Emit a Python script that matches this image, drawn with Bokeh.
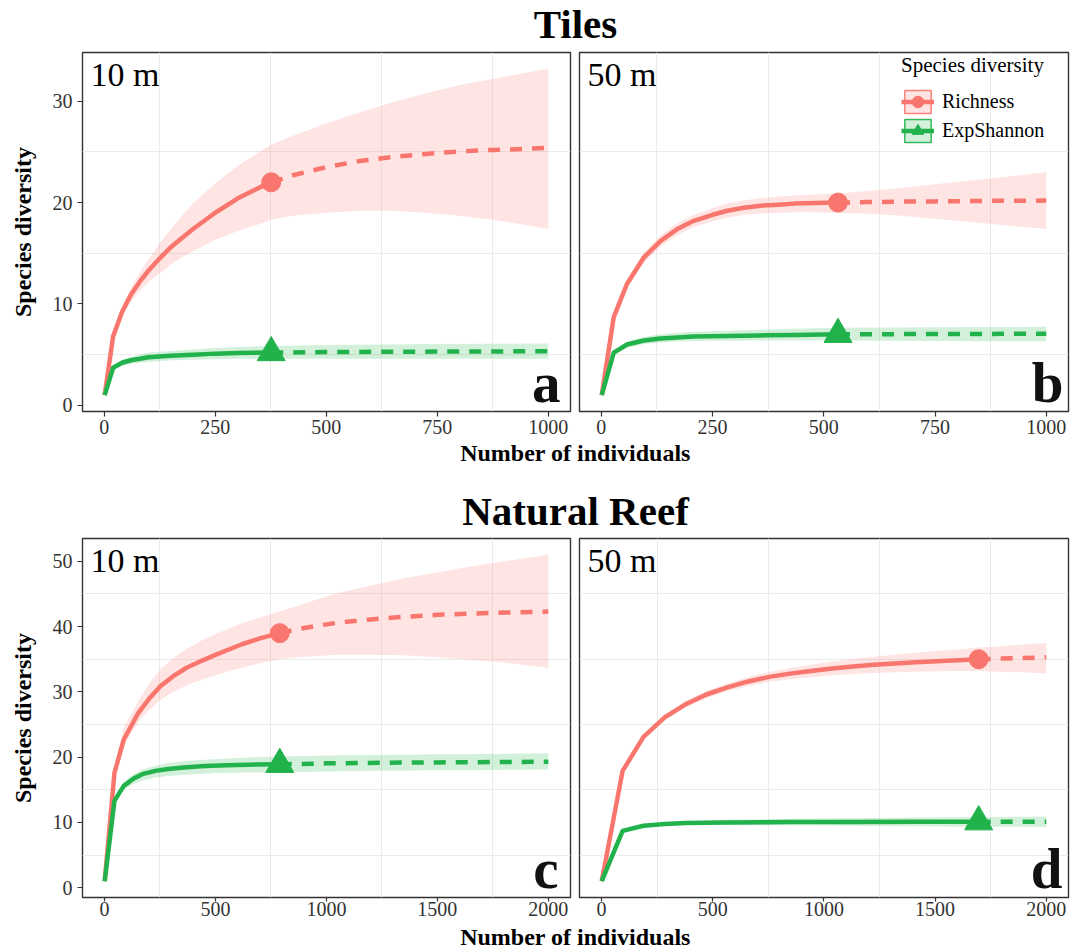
from bokeh.plotting import figure
from bokeh.layouts import column, row
from bokeh.models import Range1d, SingleIntervalTicker, FixedTicker, Label, Legend, LegendItem
from bokeh.embed import file_html
from bokeh.resources import INLINE

SERIF = "Liberation Serif"
RED = "#F8766D"
GREEN = "#22B24C"
INK = "#333333"
DESC = 0.216  # font descent (em), used to anchor text boxes at the baseline

# ---------------- data ----------------
series_names = ["Richness", "ExpShannon"]
panel_titles = ["10 m", "50 m", "10 m", "50 m"]
panel_letters = ["a", "b", "c", "d"]
row_titles = ["Tiles", "Natural Reef"]

# Panel a: Tiles, 10 m
a_rich_obs_x = [1, 20, 40, 60, 80, 100, 125, 150, 175, 200, 250, 300, 350, 376]
a_rich_obs_y = [1.0, 6.8, 9.2, 10.9, 12.2, 13.3, 14.5, 15.6, 16.5, 17.4, 19.0, 20.4, 21.5, 22.0]
a_rich_obs_lo = [1.0, 6.5, 8.7, 10.2, 11.3, 12.2, 13.0, 13.9, 14.6, 15.2, 16.3, 17.2, 17.9, 18.3]
a_rich_obs_hi = [1.0, 7.1, 9.7, 11.6, 13.1, 14.4, 16.0, 17.4, 18.7, 19.9, 21.9, 23.6, 25.0, 25.7]
a_rich_ext_x = [376, 425, 500, 575, 650, 725, 800, 875, 950, 1000]
a_rich_ext_y = [22.0, 22.7, 23.5, 24.1, 24.5, 24.8, 25.05, 25.2, 25.3, 25.4]
a_rich_ext_lo = [18.3, 18.7, 19.0, 19.2, 19.2, 19.0, 18.7, 18.3, 17.8, 17.4]
a_rich_ext_hi = [25.7, 26.6, 27.8, 28.9, 29.9, 30.8, 31.6, 32.2, 32.8, 33.2]

a_shan_obs_x = [1, 20, 40, 60, 80, 100, 150, 200, 250, 300, 376]
a_shan_obs_y = [1.0, 3.7, 4.2, 4.45, 4.6, 4.75, 4.9, 5.0, 5.1, 5.15, 5.2]
a_shan_obs_lo = [1.0, 3.5, 3.9, 4.1, 4.2, 4.3, 4.45, 4.5, 4.55, 4.6, 4.6]
a_shan_obs_hi = [1.0, 3.9, 4.5, 4.8, 5.0, 5.2, 5.35, 5.5, 5.65, 5.75, 5.85]
a_shan_ext_x = [376, 500, 625, 750, 875, 1000]
a_shan_ext_y = [5.2, 5.25, 5.28, 5.3, 5.32, 5.33]
a_shan_ext_lo = [4.6, 4.6, 4.6, 4.6, 4.6, 4.6]
a_shan_ext_hi = [5.85, 5.95, 6.0, 6.05, 6.08, 6.1]

# Panel b: Tiles, 50 m
b_rich_obs_x = [1, 28, 58, 96, 133, 171, 208, 250, 283, 320, 358, 400, 433, 480, 532]
b_rich_obs_y = [1.0, 8.7, 12.0, 14.6, 16.2, 17.4, 18.2, 18.8, 19.2, 19.5, 19.7, 19.8, 19.9, 19.95, 20.0]
b_rich_obs_lo = [1.0, 8.4, 11.6, 14.1, 15.65, 16.8, 17.6, 18.15, 18.5, 18.8, 18.95, 19.0, 19.05, 19.05, 19.0]
b_rich_obs_hi = [1.0, 9.0, 12.4, 15.1, 16.75, 18.0, 18.8, 19.45, 19.9, 20.2, 20.45, 20.6, 20.7, 20.8, 20.9]
b_rich_ext_x = [532, 600, 675, 750, 825, 900, 1000]
b_rich_ext_y = [20.0, 20.05, 20.1, 20.12, 20.15, 20.18, 20.2]
b_rich_ext_lo = [19.0, 18.9, 18.7, 18.4, 18.1, 17.8, 17.4]
b_rich_ext_hi = [20.9, 21.15, 21.45, 21.8, 22.15, 22.5, 23.0]

b_shan_obs_x = [1, 28, 58, 96, 133, 171, 208, 283, 358, 433, 532]
b_shan_obs_y = [1.0, 5.2, 6.0, 6.4, 6.6, 6.7, 6.78, 6.85, 6.9, 6.95, 7.0]
b_shan_obs_lo = [1.0, 5.0, 5.7, 6.05, 6.2, 6.3, 6.35, 6.38, 6.4, 6.4, 6.4]
b_shan_obs_hi = [1.0, 5.4, 6.3, 6.75, 7.0, 7.15, 7.25, 7.35, 7.45, 7.55, 7.65]
b_shan_ext_x = [532, 650, 775, 900, 1000]
b_shan_ext_y = [7.0, 7.02, 7.04, 7.05, 7.05]
b_shan_ext_lo = [6.4, 6.38, 6.35, 6.33, 6.3]
b_shan_ext_hi = [7.65, 7.67, 7.7, 7.72, 7.75]

# Panel c: Natural Reef, 10 m
c_rich_obs_x = [1, 45, 87, 153, 200, 253, 310, 370, 440, 503, 560, 620, 700, 790]
c_rich_obs_y = [1.0, 17.6, 22.7, 26.8, 28.9, 30.9, 32.4, 33.7, 34.8, 35.7, 36.5, 37.3, 38.2, 39.0]
c_rich_obs_lo = [1.0, 17.0, 21.8, 25.4, 27.2, 28.8, 30.0, 31.0, 31.9, 32.6, 33.2, 33.7, 34.4, 35.0]
c_rich_obs_hi = [1.0, 18.5, 24.5, 28.6, 31.2, 33.5, 35.2, 36.6, 37.9, 38.9, 39.7, 40.5, 41.4, 42.3]
c_rich_ext_x = [790, 870, 953, 1050, 1200, 1350, 1500, 1650, 1800, 2000]
c_rich_ext_y = [39.0, 39.6, 40.1, 40.6, 41.1, 41.5, 41.8, 42.0, 42.15, 42.3]
c_rich_ext_lo = [35.0, 35.3, 35.5, 35.7, 35.7, 35.6, 35.3, 34.9, 34.5, 33.7]
c_rich_ext_hi = [42.3, 43.2, 44.1, 45.1, 46.3, 47.4, 48.3, 49.2, 50.0, 51.0]

c_shan_obs_x = [1, 45, 87, 130, 170, 230, 287, 370, 453, 550, 650, 790]
c_shan_obs_y = [1.0, 13.3, 15.6, 16.7, 17.4, 17.9, 18.2, 18.45, 18.65, 18.75, 18.85, 18.9]
c_shan_obs_lo = [1.0, 13.0, 15.0, 15.9, 16.4, 16.9, 17.1, 17.3, 17.5, 17.6, 17.65, 17.7]
c_shan_obs_hi = [1.0, 13.6, 16.2, 17.4, 18.1, 18.7, 19.1, 19.4, 19.6, 19.8, 19.95, 20.1]
c_shan_ext_x = [790, 1000, 1250, 1500, 1750, 2000]
c_shan_ext_y = [18.9, 19.05, 19.15, 19.2, 19.25, 19.3]
c_shan_ext_lo = [17.7, 17.8, 17.9, 18.0, 18.05, 18.1]
c_shan_ext_hi = [20.1, 20.25, 20.35, 20.45, 20.5, 20.6]

# Panel d: Natural Reef, 50 m
d_rich_obs_x = [1, 95, 189, 284, 378, 472, 566, 660, 754, 848, 942, 1036, 1131, 1225, 1319, 1413, 1507, 1602, 1696]
d_rich_obs_y = [1.0, 17.9, 23.1, 26.1, 28.1, 29.6, 30.7, 31.6, 32.3, 32.8, 33.2, 33.6, 33.9, 34.15, 34.35, 34.55, 34.7, 34.85, 35.0]
d_rich_obs_lo = [1.0, 17.65, 22.75, 25.65, 27.6, 29.05, 30.1, 30.9, 31.55, 31.95, 32.25, 32.55, 32.75, 32.9, 33.0, 33.1, 33.15, 33.2, 33.2]
d_rich_obs_hi = [1.0, 18.15, 23.45, 26.55, 28.6, 30.15, 31.3, 32.3, 33.05, 33.65, 34.15, 34.65, 35.05, 35.4, 35.7, 36.0, 36.25, 36.5, 36.8]
d_rich_ext_x = [1696, 1800, 1900, 2000]
d_rich_ext_y = [35.0, 35.1, 35.2, 35.3]
d_rich_ext_lo = [33.2, 33.1, 33.0, 32.8]
d_rich_ext_hi = [36.8, 37.0, 37.25, 37.5]

d_shan_obs_x = [1, 95, 189, 284, 378, 566, 848, 1131, 1413, 1696]
d_shan_obs_y = [1.0, 8.7, 9.5, 9.75, 9.9, 10.0, 10.05, 10.08, 10.09, 10.1]
d_shan_obs_lo = [1.0, 8.55, 9.3, 9.5, 9.6, 9.6, 9.55, 9.5, 9.4, 9.35]
d_shan_obs_hi = [1.0, 8.85, 9.7, 10.0, 10.2, 10.4, 10.55, 10.65, 10.75, 10.85]
d_shan_ext_x = [1696, 2000]
d_shan_ext_y = [10.1, 10.1]
d_shan_ext_lo = [9.35, 9.3]
d_shan_ext_hi = [10.85, 10.9]

x_ticks_tiles = 250
x_ticks_reef = 500
y_ticks = 10

# ---------------- helpers ----------------
def expand(lo, hi, f=0.05):
    d = (hi - lo) * f
    return (lo - d, hi + d)


def series(ox, oy, olo, ohi, ex, ey, elo, ehi):
    return dict(ox=ox, oy=oy, olo=olo, ohi=ohi, ex=ex, ey=ey, elo=elo, ehi=ehi)


A = [series(a_rich_obs_x, a_rich_obs_y, a_rich_obs_lo, a_rich_obs_hi, a_rich_ext_x, a_rich_ext_y, a_rich_ext_lo, a_rich_ext_hi),
     series(a_shan_obs_x, a_shan_obs_y, a_shan_obs_lo, a_shan_obs_hi, a_shan_ext_x, a_shan_ext_y, a_shan_ext_lo, a_shan_ext_hi)]
B = [series(b_rich_obs_x, b_rich_obs_y, b_rich_obs_lo, b_rich_obs_hi, b_rich_ext_x, b_rich_ext_y, b_rich_ext_lo, b_rich_ext_hi),
     series(b_shan_obs_x, b_shan_obs_y, b_shan_obs_lo, b_shan_obs_hi, b_shan_ext_x, b_shan_ext_y, b_shan_ext_lo, b_shan_ext_hi)]
C = [series(c_rich_obs_x, c_rich_obs_y, c_rich_obs_lo, c_rich_obs_hi, c_rich_ext_x, c_rich_ext_y, c_rich_ext_lo, c_rich_ext_hi),
     series(c_shan_obs_x, c_shan_obs_y, c_shan_obs_lo, c_shan_obs_hi, c_shan_ext_x, c_shan_ext_y, c_shan_ext_lo, c_shan_ext_hi)]
D = [series(d_rich_obs_x, d_rich_obs_y, d_rich_obs_lo, d_rich_obs_hi, d_rich_ext_x, d_rich_ext_y, d_rich_ext_lo, d_rich_ext_hi),
     series(d_shan_obs_x, d_shan_obs_y, d_shan_obs_lo, d_shan_obs_hi, d_shan_ext_x, d_shan_ext_y, d_shan_ext_lo, d_shan_ext_hi)]


def yrange(*panels):
    lo = min(min(s["olo"] + s["elo"]) for p in panels for s in p)
    hi = max(max(s["ohi"] + s["ehi"]) for p in panels for s in p)
    return expand(lo, hi)


def xrange(*panels):
    lo = min(min(s["ox"]) for p in panels for s in p)
    hi = max(max(s["ex"]) for p in panels for s in p)
    return expand(lo, hi)


def mids(rng, step):
    out = []
    k = int(rng[0] // step) - 1
    while k * step <= rng[1] + step:
        m = k * step + step / 2
        if rng[0] < m < rng[1]:
            out.append(m)
        k += 1
    return out


def make_panel(data, xr, yr, xstep, fw, left, right, bottom, show_y, tag, letter,
               letter_dx, tick_out=5, x_standoff=3, legend=False):
    p = figure(frame_width=fw, frame_height=359,
               x_range=Range1d(*xr), y_range=Range1d(*yr),
               output_backend="svg", toolbar_location=None,
               min_border_left=left, min_border_right=right,
               min_border_top=2, min_border_bottom=bottom,
               y_axis_location="left" if show_y else None)
    xt = SingleIntervalTicker(interval=xstep, num_minor_ticks=0)
    yt = SingleIntervalTicker(interval=y_ticks, num_minor_ticks=0)
    p.xaxis.ticker = xt
    # only the in-between (minor) grid lines are shown, as in the original
    p.xgrid.ticker = FixedTicker(ticks=mids(xr, xstep))
    p.ygrid.ticker = FixedTicker(ticks=mids(yr, y_ticks))
    if show_y:
        p.yaxis.ticker = yt
        p.yaxis.axis_label = "Species diversity"
        p.yaxis.axis_label_text_font = SERIF
        p.yaxis.axis_label_text_font_style = "bold"
        p.yaxis.axis_label_text_font_size = "24px"
        p.yaxis.axis_label_text_color = "black"
        p.yaxis.axis_label_standoff = 14
    for g in (p.xgrid, p.ygrid):
        g.grid_line_color = "#EBEBEB"
        g.grid_line_width = 1
        g.minor_grid_line_color = None
    for ax in p.axis:
        ax.axis_line_color = None
        ax.minor_tick_line_color = None
        ax.major_tick_line_color = INK
        ax.major_tick_line_width = 1.2
        ax.major_tick_out = 5
        ax.major_tick_in = 0
        ax.major_label_text_font = SERIF
        ax.major_label_text_font_size = "20px"
        ax.major_label_text_color = INK
    p.xaxis.major_tick_out = tick_out
    p.xaxis.major_label_standoff = x_standoff
    if show_y:
        p.yaxis.major_label_standoff = 5
    p.outline_line_color = INK
    p.outline_line_width = 1.4
    p.outline_line_alpha = 1.0
    p.background_fill_color = "white"
    p.border_fill_color = "white"

    colors = [RED, GREEN]
    markers = ["circle", "triangle"]
    sizes = [19, 28]
    lines, pts, keys = [], [], []
    for s, col in zip(data, colors):
        bx = s["ox"] + s["ex"][1:]
        blo = s["olo"] + s["elo"][1:]
        bhi = s["ohi"] + s["ehi"][1:]
        p.varea(x=bx, y1=blo, y2=bhi, fill_color=col, fill_alpha=0.2)
    for s, col in zip(data, colors):
        # zero-size box at the observed point: only used to draw the legend key box
        keys.append(p.quad(left=[s["ox"][-1]], right=[s["ox"][-1]], top=[s["oy"][-1]],
                           bottom=[s["oy"][-1]], fill_color=col, fill_alpha=0.2,
                           line_color=col, line_width=1.5, line_alpha=0.9))
    for s, col in zip(data, colors):
        l1 = p.line(s["ox"], s["oy"], line_color=col, line_width=4.5, line_join="round")
        p.line(s["ex"], s["ey"], line_color=col, line_width=4.5, line_dash="12 10")
        lines.append(l1)
    for s, col, mk, sz in zip(data, colors, markers, sizes):
        pts.append(p.scatter(x=[s["ox"][-1]], y=[s["oy"][-1]], marker=mk, size=sz,
                             fill_color=col, line_color=col))

    tag_size = 34
    p.add_layout(Label(x=xr[0], y=yr[1], x_offset=8, y_offset=-(33.3 + DESC * tag_size), text=tag,
                       text_font=SERIF, text_font_size=f"{tag_size}px", text_color="black",
                       text_baseline="bottom", text_align="left"))
    let_size = 57
    p.add_layout(Label(x=xr[1], y=yr[0], x_offset=letter_dx, y_offset=9.5 - DESC * let_size,
                       text=letter, text_font=SERIF, text_font_size=f"{let_size}px",
                       text_font_style="bold", text_color="#111111",
                       text_baseline="bottom", text_align="right"))

    if legend:
        items = [LegendItem(label=series_names[i], renderers=[keys[i], lines[i], pts[i]])
                 for i in range(2)]
        leg = Legend(items=items, title="Species diversity", location=(322, 266),
                     orientation="vertical", padding=0, margin=0, spacing=0,
                     glyph_width=33, glyph_height=29, label_standoff=8,
                     title_standoff=9, background_fill_alpha=0, border_line_color=None,
                     label_text_font=SERIF, label_text_font_size="20px", label_text_color="black",
                     title_text_font=SERIF, title_text_font_size="21px", title_text_color="black",
                     title_text_font_style="normal")
        p.add_layout(leg)
    return p


def canvas(h):
    c = figure(width=1075, height=h, x_range=Range1d(0, 1075), y_range=Range1d(0, h),
               output_backend="svg", toolbar_location=None,
               x_axis_location=None, y_axis_location=None, min_border=0)
    c.grid.visible = False
    c.outline_line_color = None
    c.background_fill_color = "white"
    c.border_fill_color = "white"
    return c


def put(c, x, baseline_from_bottom, text, size):
    c.add_layout(Label(x=x, y=baseline_from_bottom - DESC * size, text=text, text_font=SERIF,
                       text_font_style="bold", text_font_size=f"{size}px", text_color="black",
                       text_align="center", text_baseline="bottom"))


xr_t = xrange(A, B)
yr_t = yrange(A, B)
xr_r = xrange(C, D)
yr_r = yrange(C, D)

pa = make_panel(A, xr_t, yr_t, x_ticks_tiles, 488, 82, 4, 30, True, panel_titles[0], panel_letters[0], -10)
pb = make_panel(B, xr_t, yr_t, x_ticks_tiles, 489, 5, 7, 30, False, panel_titles[1], panel_letters[1], -5, legend=True)
pc = make_panel(C, xr_r, yr_r, x_ticks_reef, 488, 82, 4, 26, True, panel_titles[2], panel_letters[2], -12,
                tick_out=4, x_standoff=0)
pd = make_panel(D, xr_r, yr_r, x_ticks_reef, 489, 5, 7, 26, False, panel_titles[3], panel_letters[3], -6,
                tick_out=4, x_standoff=0)

CX = 575
h1 = canvas(50)
put(h1, CX, 12, row_titles[0], 41)
mid = canvas(95)
put(mid, CX, 75.6, "Number of individuals", 24)
put(mid, CX, 11.0, row_titles[1], 41)
bot = canvas(27)
put(bot, CX, 5.5, "Number of individuals", 24)

layout = column(h1, row(pa, pb), mid, row(pc, pd), bot, spacing=0)

open("out.html", "w").write(file_html(layout, INLINE))
